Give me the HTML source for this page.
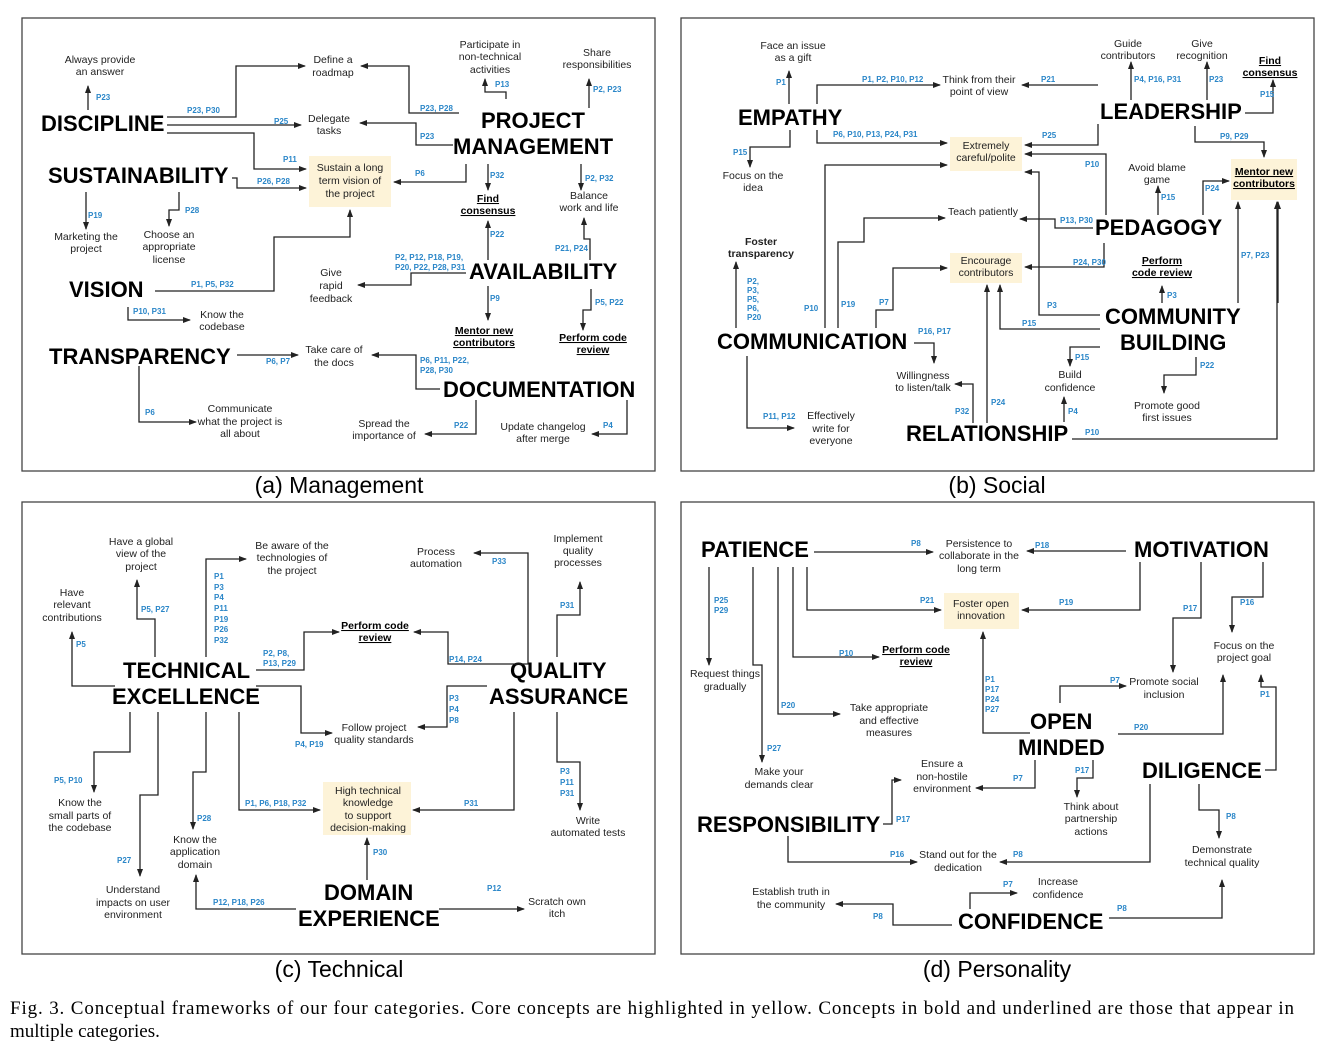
<!DOCTYPE html>
<html><head><meta charset="utf-8"><style>
html,body{margin:0;padding:0;background:#fff}
svg{display:block}
text{font-family:"Liberation Sans",sans-serif;fill:#222}
.B{font-size:22px;font-weight:bold;fill:#000}
.s{font-size:10.5px;text-anchor:middle}
.u{font-size:10.5px;text-anchor:middle;font-weight:bold;text-decoration:underline;fill:#000}
.p{font-size:8px;font-weight:bold;fill:#2a86c8}
.c{font-size:23px;text-anchor:middle;fill:#000}
.f{font-family:"Liberation Serif",serif;font-size:19px;fill:#000}
polyline,line{fill:none;stroke:#222;stroke-width:1.3;marker-end:url(#a)}
.bx{fill:#fdf3d8}
.fr{fill:none;stroke:#444;stroke-width:1.3}
</style></head><body>
<svg width="1324" height="1059" viewBox="0 0 1324 1059" xmlns="http://www.w3.org/2000/svg">
<defs><marker id="a" markerWidth="8" markerHeight="8" refX="7" refY="3" orient="auto" markerUnits="userSpaceOnUse"><path d="M0,0 L8,3 L0,6 z" fill="#222"/></marker></defs>
<rect class="fr" x="22" y="18" width="633" height="453"/>
<rect class="fr" x="681" y="18" width="633" height="453"/>
<rect class="fr" x="22" y="502" width="633" height="452"/>
<rect class="fr" x="681" y="502" width="633" height="452"/>
<text class="c" x="339" y="493">(a) Management</text>
<text class="c" x="997" y="493">(b) Social</text>
<text class="c" x="339" y="977">(c) Technical</text>
<text class="c" x="997" y="977">(d) Personality</text>
<text class="f" x="10" y="1014" textLength="1284" lengthAdjust="spacing">Fig. 3.  Conceptual frameworks of our four categories. Core concepts are highlighted in yellow. Concepts in bold and underlined are those that appear in</text>
<text class="f" x="10" y="1037">multiple categories.</text>

<!-- Panel A -->
<rect class="bx" x="309" y="156" width="82" height="51"/>
<text class="B" x="41" y="131">DISCIPLINE</text>
<text class="B" x="48" y="183">SUSTAINABILITY</text>
<text class="B" x="69" y="297">VISION</text>
<text class="B" x="49" y="364">TRANSPARENCY</text>
<text class="B" x="481" y="128">PROJECT</text>
<text class="B" x="453" y="154">MANAGEMENT</text>
<text class="B" x="469" y="279">AVAILABILITY</text>
<text class="B" x="443" y="397">DOCUMENTATION</text>
<g class="s">
<text class="s" x="100" y="63">Always provide</text><text class="s" x="100" y="75">an answer</text>
<text class="s" x="333" y="63">Define a</text><text class="s" x="333" y="76">roadmap</text>
<text class="s" x="490" y="48">Participate in</text><text class="s" x="490" y="60">non-technical</text><text class="s" x="490" y="73">activities</text>
<text class="s" x="597" y="56">Share</text><text class="s" x="597" y="68">responsibilities</text>
<text class="s" x="329" y="122">Delegate</text><text class="s" x="329" y="134">tasks</text>
<text class="s" x="350" y="171">Sustain a long</text><text class="s" x="350" y="184">term vision of</text><text class="s" x="350" y="197">the project</text>
<text class="s" x="589" y="199">Balance</text><text class="s" x="589" y="211">work and life</text>
<text class="u" x="488" y="202">Find</text><text class="u" x="488" y="214">consensus</text>
<text class="s" x="86" y="240">Marketing the</text><text class="s" x="86" y="252">project</text>
<text class="s" x="169" y="238">Choose an</text><text class="s" x="169" y="250">appropriate</text><text class="s" x="169" y="263">license</text>
<text class="s" x="331" y="276">Give</text><text class="s" x="331" y="289">rapid</text><text class="s" x="331" y="302">feedback</text>
<text class="s" x="222" y="318">Know the</text><text class="s" x="222" y="330">codebase</text>
<text class="u" x="484" y="334">Mentor new</text><text class="u" x="484" y="346">contributors</text>
<text class="u" x="593" y="341">Perform code</text><text class="u" x="593" y="353">review</text>
<text class="s" x="334" y="353">Take care of</text><text class="s" x="334" y="366">the docs</text>
<text class="s" x="240" y="412">Communicate</text><text class="s" x="240" y="425">what the project is</text><text class="s" x="240" y="437">all about</text>
<text class="s" x="384" y="427">Spread the</text><text class="s" x="384" y="439">importance of</text>
<text class="s" x="543" y="430">Update changelog</text><text class="s" x="543" y="442">after merge</text>
</g>
<g>
<polyline points="88,110 88,86"/>
<polyline points="167,117 236,117 236,66 305,66"/>
<polyline points="167,125 301,125"/>
<polyline points="167,133 254,133 254,169 306,169"/>
<polyline points="232,178 237,178 237,188 306,188"/>
<polyline points="459,113 409,113 409,66 361,66"/>
<polyline points="453,145 416,145 416,123 360,123"/>
<polyline points="506,99 506,92 485,92 485,79"/>
<polyline points="589,108 589,79"/>
<polyline points="466,164 466,182 394,182"/>
<polyline points="488,164 488,190"/>
<polyline points="581,164 581,190"/>
<polyline points="488,260 488,221"/>
<polyline points="590,260 590,239 584,239 584,218"/>
<polyline points="466,273 411,273 411,285 358,285"/>
<polyline points="155,291 274,291 274,237 350,237 350,210"/>
<polyline points="128,307 128,320 190,320"/>
<polyline points="86,192 86,229"/>
<polyline points="179,192 179,210 169,210 169,226"/>
<polyline points="237,355 298,355"/>
<polyline points="440,389 416,389 416,355 372,355"/>
<polyline points="139,366 139,422 196,422"/>
<polyline points="488,286 488,320"/>
<polyline points="591,289 591,310 583,310 583,330"/>
<polyline points="476,400 476,434 425,434"/>
<polyline points="627,400 627,434 592,434"/>
</g>
<g class="p">
<text class="p" x="96" y="100">P23</text><text class="p" x="187" y="113">P23, P30</text><text class="p" x="274" y="124">P25</text>
<text class="p" x="283" y="162">P11</text><text class="p" x="257" y="184">P26, P28</text>
<text class="p" x="420" y="111">P23, P28</text><text class="p" x="420" y="139">P23</text>
<text class="p" x="495" y="87">P13</text><text class="p" x="593" y="92">P2, P23</text>
<text class="p" x="415" y="176">P6</text><text class="p" x="490" y="178">P32</text><text class="p" x="585" y="181">P2, P32</text>
<text class="p" x="490" y="237">P22</text><text class="p" x="555" y="251">P21, P24</text>
<text class="p" x="395" y="260">P2, P12, P18, P19,</text><text class="p" x="395" y="270">P20, P22, P28, P31</text>
<text class="p" x="88" y="218">P19</text><text class="p" x="185" y="213">P28</text>
<text class="p" x="191" y="287">P1, P5, P32</text><text class="p" x="133" y="314">P10, P31</text>
<text class="p" x="266" y="364">P6, P7</text><text class="p" x="420" y="363">P6, P11, P22,</text><text class="p" x="420" y="373">P28, P30</text>
<text class="p" x="145" y="415">P6</text><text class="p" x="490" y="301">P9</text><text class="p" x="595" y="305">P5, P22</text>
<text class="p" x="454" y="428">P22</text><text class="p" x="603" y="428">P4</text>
</g>

<!-- Panel B -->
<rect class="bx" x="950" y="137" width="72" height="34"/>
<rect class="bx" x="950" y="253" width="72" height="30"/>
<rect class="bx" x="1231" y="159" width="66" height="41"/>
<text class="B" x="738" y="125">EMPATHY</text>
<text class="B" x="1100" y="119">LEADERSHIP</text>
<text class="B" x="1095" y="235">PEDAGOGY</text>
<text class="B" x="717" y="349">COMMUNICATION</text>
<text class="B" x="1105" y="324">COMMUNITY</text>
<text class="B" x="1120" y="350">BUILDING</text>
<text class="B" x="906" y="441">RELATIONSHIP</text>
<text class="s" x="793" y="49">Face an issue</text><text class="s" x="793" y="61">as a gift</text>
<text class="s" x="1128" y="47">Guide</text><text class="s" x="1128" y="59">contributors</text>
<text class="s" x="1202" y="47">Give</text><text class="s" x="1202" y="59">recognition</text>
<text class="u" x="1270" y="64">Find</text><text class="u" x="1270" y="76">consensus</text>
<text class="s" x="979" y="83">Think from their</text><text class="s" x="979" y="95">point of view</text>
<text class="s" x="986" y="149">Extremely</text><text class="s" x="986" y="161">careful/polite</text>
<text class="s" x="753" y="179">Focus on the</text><text class="s" x="753" y="191">idea</text>
<text class="s" x="1157" y="171">Avoid blame</text><text class="s" x="1157" y="183">game</text>
<text class="u" x="1264" y="175">Mentor new</text><text class="u" x="1264" y="187">contributors</text>
<text class="s" x="983" y="215">Teach patiently</text>
<text class="s" x="761" y="245" style="font-weight:bold">Foster</text><text class="s" x="761" y="257" style="font-weight:bold">transparency</text>
<text class="s" x="986" y="264">Encourage</text><text class="s" x="986" y="276">contributors</text>
<text class="u" x="1162" y="264">Perform</text><text class="u" x="1162" y="276">code review</text>
<text class="s" x="923" y="379">Willingness</text><text class="s" x="923" y="391">to listen/talk</text>
<text class="s" x="1070" y="378">Build</text><text class="s" x="1070" y="391">confidence</text>
<text class="s" x="1167" y="409">Promote good</text><text class="s" x="1167" y="421">first issues</text>
<text class="s" x="831" y="419">Effectively</text><text class="s" x="831" y="432">write for</text><text class="s" x="831" y="444">everyone</text>
<g>
<polyline points="789,104 789,71"/>
<polyline points="817,104 817,85 940,85"/>
<polyline points="1098,85 1022,85"/>
<polyline points="817,130 817,143 947,143"/>
<polyline points="1098,124 1098,145 1025,145"/>
<polyline points="790,130 790,147 750,147 750,167"/>
<polyline points="1131,100 1131,62"/>
<polyline points="1207,100 1207,62"/>
<polyline points="1245,113 1273,113 1273,80"/>
<polyline points="1195,126 1195,142 1264,142 1264,157"/>
<polyline points="1106,215 1106,154 1025,154"/>
<polyline points="1158,215 1158,186"/>
<polyline points="1203,215 1203,181 1229,181"/>
<polyline points="1093,228 1055,228 1055,219 1020,219"/>
<polyline points="1104,243 1104,267 1025,267"/>
<polyline points="1162,303 1162,286"/>
<polyline points="1238,303 1238,202"/>
<polyline points="1278,303 1278,202"/>
<polyline points="736,328 736,262"/>
<polyline points="825,328 825,165 947,165"/>
<polyline points="838,328 838,242 864,242 864,218 945,218"/>
<polyline points="876,328 876,310 893,310 893,268 947,268"/>
<polyline points="914,343 934,343 934,363"/>
<polyline points="747,356 747,428 794,428"/>
<polyline points="1100,315 1039,315 1039,172 1025,172"/>
<polyline points="1100,329 1000,329 1000,285"/>
<polyline points="1100,347 1070,347 1070,366"/>
<polyline points="1196,357 1196,375 1164,375 1164,393"/>
<polyline points="1064,422 1064,397"/>
<polyline points="987,423 987,285"/>
<polyline points="973,423 973,384 955,384"/>
<polyline points="1072,439 1277,439 1277,202"/>
</g>
<g>
<text class="p" x="776" y="85">P1</text><text class="p" x="862" y="82">P1, P2, P10, P12</text><text class="p" x="1041" y="82">P21</text>
<text class="p" x="833" y="137">P6, P10, P13, P24, P31</text><text class="p" x="1042" y="138">P25</text>
<text class="p" x="733" y="155">P15</text><text class="p" x="1134" y="82">P4, P16, P31</text><text class="p" x="1209" y="82">P23</text>
<text class="p" x="1260" y="97">P15</text><text class="p" x="1220" y="139">P9, P29</text>
<text class="p" x="1085" y="167">P10</text><text class="p" x="1161" y="200">P15</text><text class="p" x="1205" y="191">P24</text>
<text class="p" x="1060" y="223">P13, P30</text><text class="p" x="1073" y="265">P24, P30</text>
<text class="p" x="1167" y="298">P3</text><text class="p" x="1241" y="258">P7, P23</text>
<text class="p" x="747" y="284">P2,</text><text class="p" x="747" y="293">P3,</text><text class="p" x="747" y="302">P5,</text><text class="p" x="747" y="311">P6,</text><text class="p" x="747" y="320">P20</text>
<text class="p" x="804" y="311">P10</text><text class="p" x="841" y="307">P19</text><text class="p" x="879" y="305">P7</text>
<text class="p" x="918" y="334">P16, P17</text><text class="p" x="763" y="419">P11, P12</text>
<text class="p" x="1047" y="308">P3</text><text class="p" x="1022" y="326">P15</text><text class="p" x="1075" y="360">P15</text>
<text class="p" x="1200" y="368">P22</text><text class="p" x="1068" y="414">P4</text><text class="p" x="991" y="405">P24</text>
<text class="p" x="955" y="414">P32</text><text class="p" x="1085" y="435">P10</text>
</g>

<!-- Panel C -->
<rect class="bx" x="323" y="782" width="88" height="53"/>
<text class="B" x="123" y="678">TECHNICAL</text>
<text class="B" x="112" y="704">EXCELLENCE</text>
<text class="B" x="510" y="678">QUALITY</text>
<text class="B" x="489" y="704">ASSURANCE</text>
<text class="B" x="324" y="900">DOMAIN</text>
<text class="B" x="298" y="926">EXPERIENCE</text>
<text class="s" x="141" y="545">Have a global</text><text class="s" x="141" y="557">view of the</text><text class="s" x="141" y="570">project</text>
<text class="s" x="292" y="549">Be aware of the</text><text class="s" x="292" y="561">technologies of</text><text class="s" x="292" y="574">the project</text>
<text class="s" x="436" y="555">Process</text><text class="s" x="436" y="567">automation</text>
<text class="s" x="578" y="542">Implement</text><text class="s" x="578" y="554">quality</text><text class="s" x="578" y="566">processes</text>
<text class="s" x="72" y="596">Have</text><text class="s" x="72" y="608">relevant</text><text class="s" x="72" y="621">contributions</text>
<text class="u" x="375" y="629">Perform code</text><text class="u" x="375" y="641">review</text>
<text class="s" x="374" y="731">Follow project</text><text class="s" x="374" y="743">quality standards</text>
<text class="s" x="368" y="794">High technical</text><text class="s" x="368" y="806">knowledge</text><text class="s" x="368" y="819">to support</text><text class="s" x="368" y="831">decision-making</text>
<text class="s" x="80" y="806">Know the</text><text class="s" x="80" y="819">small parts of</text><text class="s" x="80" y="831">the codebase</text>
<text class="s" x="195" y="843">Know the</text><text class="s" x="195" y="855">application</text><text class="s" x="195" y="868">domain</text>
<text class="s" x="588" y="824">Write</text><text class="s" x="588" y="836">automated tests</text>
<text class="s" x="133" y="893">Understand</text><text class="s" x="133" y="906">impacts on user</text><text class="s" x="133" y="918">environment</text>
<text class="s" x="557" y="905">Scratch own</text><text class="s" x="557" y="917">itch</text>
<g>
<polyline points="155,657 155,619 137,619 137,580"/>
<polyline points="206,657 206,559 246,559"/>
<polyline points="115,686 72,686 72,632"/>
<polyline points="256,670 304,670 304,632 339,632"/>
<polyline points="528,657 528,664 448,664 448,632 414,632"/>
<polyline points="528,657 528,553 474,553"/>
<polyline points="557,657 557,615 580,615 580,582"/>
<polyline points="256,686 301,686 301,733 332,733"/>
<polyline points="487,686 447,686 447,727 418,727"/>
<polyline points="557,712 557,762 580,762 580,810"/>
<polyline points="514,712 514,810 413,810"/>
<polyline points="239,712 239,810 320,810"/>
<polyline points="130,712 130,752 94,752 94,792"/>
<polyline points="206,712 206,772 193,772 193,829"/>
<polyline points="158,712 158,795 140,795 140,876"/>
<polyline points="367,880 367,838"/>
<polyline points="296,909 196,909 196,875"/>
<polyline points="439,909 524,909"/>
</g>
<g>
<text class="p" x="141" y="612">P5, P27</text>
<text class="p" x="214" y="579">P1</text><text class="p" x="214" y="590">P3</text><text class="p" x="214" y="600">P4</text><text class="p" x="214" y="611">P11</text><text class="p" x="214" y="622">P19</text><text class="p" x="214" y="632">P26</text><text class="p" x="214" y="643">P32</text>
<text class="p" x="76" y="647">P5</text><text class="p" x="263" y="656">P2, P8,</text><text class="p" x="263" y="666">P13, P29</text>
<text class="p" x="449" y="662">P14, P24</text><text class="p" x="492" y="564">P33</text><text class="p" x="560" y="608">P31</text>
<text class="p" x="295" y="747">P4, P19</text><text class="p" x="449" y="701">P3</text><text class="p" x="449" y="712">P4</text><text class="p" x="449" y="723">P8</text>
<text class="p" x="560" y="774">P3</text><text class="p" x="560" y="785">P11</text><text class="p" x="560" y="796">P31</text>
<text class="p" x="464" y="806">P31</text><text class="p" x="245" y="806">P1, P6, P18, P32</text>
<text class="p" x="54" y="783">P5, P10</text><text class="p" x="197" y="821">P28</text><text class="p" x="117" y="863">P27</text>
<text class="p" x="373" y="855">P30</text><text class="p" x="213" y="905">P12, P18, P26</text><text class="p" x="487" y="891">P12</text>
</g>

<!-- Panel D -->
<rect class="bx" x="944" y="593" width="75" height="36"/>
<text class="B" x="701" y="557">PATIENCE</text>
<text class="B" x="1134" y="557">MOTIVATION</text>
<text class="B" x="1030" y="729">OPEN</text>
<text class="B" x="1018" y="755">MINDED</text>
<text class="B" x="1142" y="778">DILIGENCE</text>
<text class="B" x="697" y="832">RESPONSIBILITY</text>
<text class="B" x="958" y="929">CONFIDENCE</text>
<text class="s" x="979" y="547">Persistence to</text><text class="s" x="979" y="559">collaborate in the</text><text class="s" x="979" y="572">long term</text>
<text class="s" x="981" y="607">Foster open</text><text class="s" x="981" y="619">innovation</text>
<text class="u" x="916" y="653">Perform code</text><text class="u" x="916" y="665">review</text>
<text class="s" x="1244" y="649">Focus on the</text><text class="s" x="1244" y="661">project goal</text>
<text class="s" x="725" y="677">Request things</text><text class="s" x="725" y="690">gradually</text>
<text class="s" x="1164" y="685">Promote social</text><text class="s" x="1164" y="698">inclusion</text>
<text class="s" x="889" y="711">Take appropriate</text><text class="s" x="889" y="724">and effective</text><text class="s" x="889" y="736">measures</text>
<text class="s" x="942" y="767">Ensure a</text><text class="s" x="942" y="780">non-hostile</text><text class="s" x="942" y="792">environment</text>
<text class="s" x="779" y="775">Make your</text><text class="s" x="779" y="788">demands clear</text>
<text class="s" x="1091" y="810">Think about</text><text class="s" x="1091" y="822">partnership</text><text class="s" x="1091" y="835">actions</text>
<text class="s" x="1222" y="853">Demonstrate</text><text class="s" x="1222" y="866">technical quality</text>
<text class="s" x="958" y="858">Stand out for the</text><text class="s" x="958" y="871">dedication</text>
<text class="s" x="1058" y="885">Increase</text><text class="s" x="1058" y="898">confidence</text>
<text class="s" x="791" y="895">Establish truth in</text><text class="s" x="791" y="908">the community</text>
<g>
<polyline points="814,552 933,552"/>
<polyline points="1126,551 1027,551"/>
<polyline points="807,567 807,610 941,610"/>
<polyline points="1140,562 1140,610 1022,610"/>
<polyline points="793,567 793,657 879,657"/>
<polyline points="709,567 709,665"/>
<polyline points="778,567 778,714 840,714"/>
<polyline points="753,567 753,665 762,665 762,762"/>
<polyline points="1201,562 1201,618 1173,618 1173,672"/>
<polyline points="1263,562 1263,597 1232,597 1232,632"/>
<polyline points="1030,733 983,733 983,632"/>
<polyline points="1060,703 1060,686 1126,686"/>
<polyline points="1118,734 1223,734 1223,675"/>
<polyline points="1093,760 1093,778 1077,778 1077,797"/>
<polyline points="1035,760 1035,788 976,788"/>
<polyline points="1265,770 1276,770 1276,687 1261,687 1261,675"/>
<polyline points="1199,784 1199,810 1219,810 1219,838"/>
<polyline points="1150,784 1150,862 1000,862"/>
<polyline points="883,824 892,824 892,780 901,780"/>
<polyline points="788,836 788,862 917,862"/>
<polyline points="970,909 970,893 1017,893"/>
<polyline points="952,925 893,925 893,904 836,904"/>
<polyline points="1109,918 1222,918 1222,880"/>
</g>
<g>
<text class="p" x="911" y="546">P8</text><text class="p" x="1035" y="548">P18</text>
<text class="p" x="920" y="603">P21</text><text class="p" x="1059" y="605">P19</text><text class="p" x="839" y="656">P10</text>
<text class="p" x="714" y="603">P25</text><text class="p" x="714" y="613">P29</text>
<text class="p" x="781" y="708">P20</text><text class="p" x="767" y="751">P27</text>
<text class="p" x="1183" y="611">P17</text><text class="p" x="1240" y="605">P16</text>
<text class="p" x="985" y="682">P1</text><text class="p" x="985" y="692">P17</text><text class="p" x="985" y="702">P24</text><text class="p" x="985" y="712">P27</text>
<text class="p" x="1110" y="683">P7</text><text class="p" x="1134" y="730">P20</text><text class="p" x="1075" y="773">P17</text>
<text class="p" x="1013" y="781">P7</text><text class="p" x="1260" y="697">P1</text><text class="p" x="1226" y="819">P8</text>
<text class="p" x="1013" y="857">P8</text><text class="p" x="896" y="822">P17</text><text class="p" x="890" y="857">P16</text>
<text class="p" x="1003" y="887">P7</text><text class="p" x="873" y="919">P8</text><text class="p" x="1117" y="911">P8</text>
</g>
</svg>
</body></html>
